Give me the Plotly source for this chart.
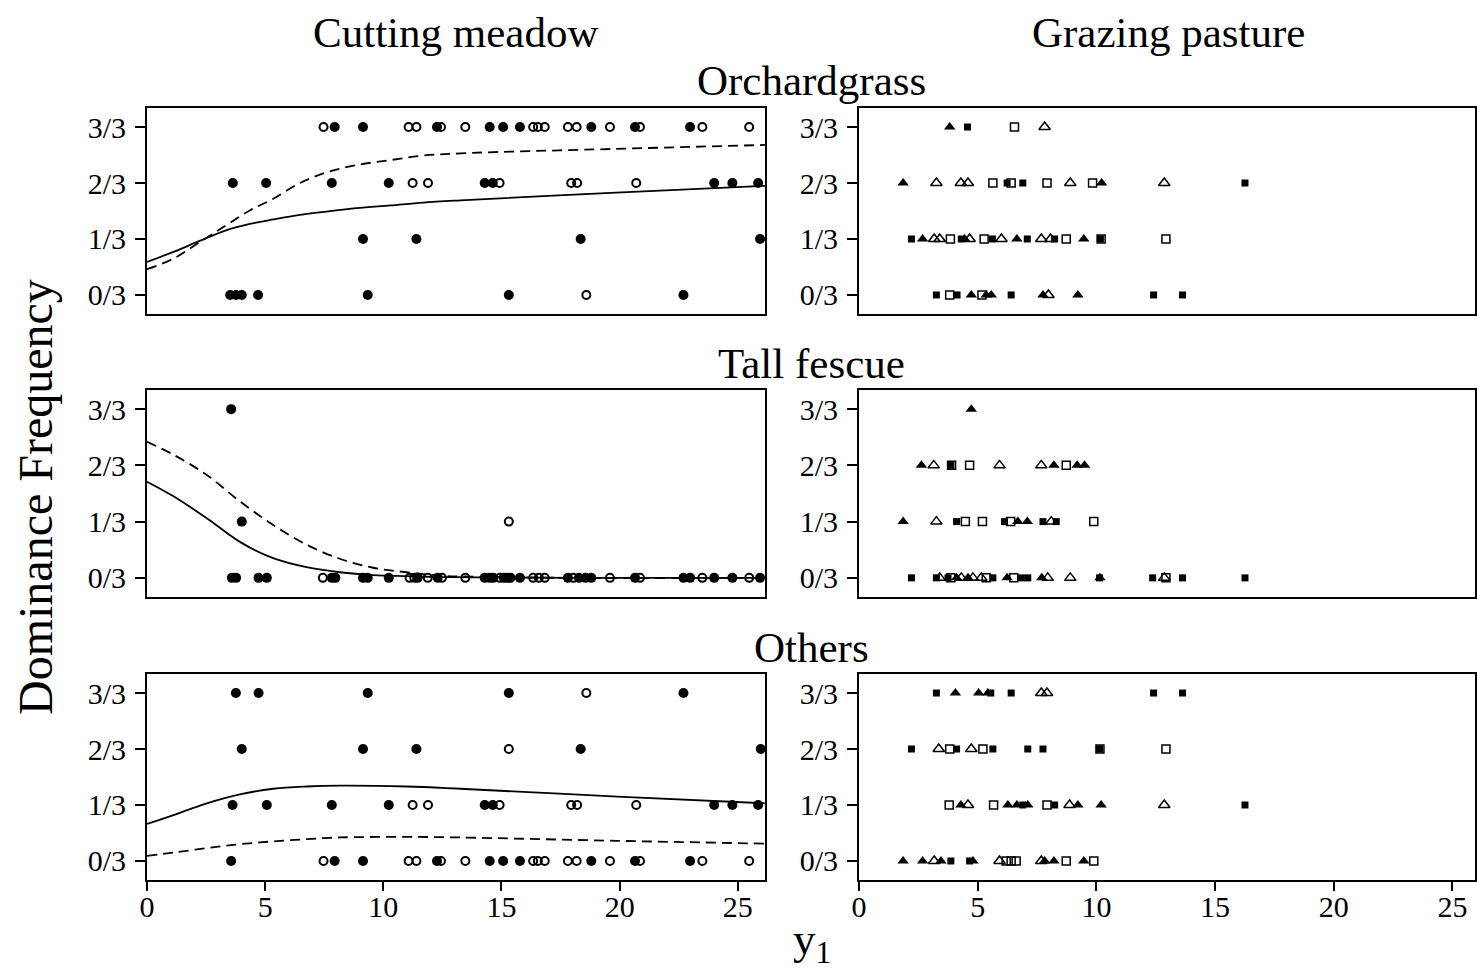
import plotly.graph_objects as go

# ---------------- data ----------------
# Cutting meadow (circles: filled / open), y in thirds (0..3)
OG_CUT_FILLED_X = [7.94, 9.14, 12.27, 14.5, 15.07, 15.78, 18.8, 20.65, 22.98,
                   3.63, 5.04, 7.82, 10.23, 14.29, 14.63, 24.0, 24.77, 25.86,
                   9.14, 11.4, 18.35, 25.94,
                   3.52, 3.77, 4.01, 4.70, 9.34, 15.31, 22.7]
OG_CUT_FILLED_Y = [3]*9 + [2]*9 + [1]*4 + [0]*7
OG_CUT_OPEN_X = [7.47, 11.07, 11.4, 12.44, 13.47, 16.34, 16.54, 16.83, 17.81, 18.18, 19.59, 20.86, 23.5, 25.48,
                 11.24, 11.89, 14.92, 17.95, 18.2, 20.7,
                 18.59]
OG_CUT_OPEN_Y = [3]*14 + [2]*6 + [0]*1

TF_CUT_FILLED_X = [3.56, 4.01,
                   3.59, 3.77, 4.72, 5.07, 7.82, 7.97, 9.14, 9.34, 10.23, 11.45, 12.3, 14.29, 14.5, 14.65,
                   15.1, 15.24, 15.38, 15.78, 17.81, 18.28, 18.56, 18.8, 20.65, 22.7, 22.98, 24.0, 24.77, 25.94]
TF_CUT_FILLED_Y = [3, 1] + [0]*28
TF_CUT_OPEN_X = [15.31,
                 7.44, 11.11, 11.31, 11.88, 12.48, 13.47, 14.93, 16.34, 16.58, 16.83, 18.04, 19.59, 20.86, 23.5, 25.48]
TF_CUT_OPEN_Y = [1] + [0]*15

OT_CUT_FILLED_X = [3.76, 4.72, 9.34, 15.31, 22.7,
                   4.01, 9.14, 11.4, 18.35, 25.97,
                   3.62, 5.07, 7.82, 10.23, 14.29, 14.63, 24.0, 24.77, 25.86,
                   3.56, 7.94, 9.14, 12.27, 14.5, 15.07, 15.78, 18.8, 20.65, 22.98]
OT_CUT_FILLED_Y = [3]*5 + [2]*5 + [1]*9 + [0]*10
OT_CUT_OPEN_X = [18.59,
                 15.31,
                 11.24, 11.89, 14.92, 17.95, 18.2, 20.7,
                 7.47, 11.07, 11.4, 12.44, 13.47, 16.34, 16.54, 16.83, 17.81, 18.18, 19.59, 20.86, 23.5, 25.48]
OT_CUT_OPEN_Y = [3] + [2] + [1]*6 + [0]*14

# Fitted curves (cutting meadow)
OG_CURVE_X = [0, 1.12, 2.25, 3.37, 4.35, 5.35, 6.47, 7.6, 8.86, 10.3, 11.68, 13.26, 19.85, 26.15]
OG_SOLID = [0.59, 0.77, 0.97, 1.16, 1.27, 1.35, 1.43, 1.49, 1.55, 1.60, 1.65, 1.69, 1.83, 1.95]
OG_DASH = [0.46, 0.65, 0.95, 1.25, 1.51, 1.72, 2.0, 2.19, 2.32, 2.41, 2.49, 2.53, 2.61, 2.68]
TF_CURVE_X = [0, 1.12, 2.53, 3.93, 5.34, 6.75, 8.16, 9.57, 10.98, 12.4, 14.0, 18.0, 26.15]
TF_SOLID = [1.71, 1.45, 1.06, 0.64, 0.35, 0.19, 0.10, 0.05, 0.03, 0.015, 0.01, 0.0, 0.0]
TF_DASH = [2.42, 2.19, 1.83, 1.36, 0.94, 0.59, 0.34, 0.18, 0.10, 0.04, 0.02, 0.0, 0.0]
OT_CURVE_X = [0, 1.12, 2.53, 3.93, 5.34, 6.75, 8.16, 10.98, 13.26, 19.9, 26.15]
OT_SOLID = [0.66, 0.82, 1.03, 1.19, 1.29, 1.33, 1.345, 1.33, 1.29, 1.15, 1.03]
OT_DASH = [0.09, 0.15, 0.23, 0.30, 0.35, 0.39, 0.42, 0.43, 0.42, 0.36, 0.31]

# Grazing pasture (filled triangle / filled square / open square / open triangle)
OG_GR_FTRI_X = [3.82, 1.86, 10.22, 2.68, 4.45, 6.65, 9.47, 4.73, 5.36, 5.57, 7.75, 9.22]
OG_GR_FTRI_Y = [3, 2, 2, 1, 1, 1, 1, 0, 0, 0, 0, 0]
OG_GR_FSQ_X = [4.57, 6.24, 6.9, 16.26, 2.21, 4.31, 5.62, 7.09, 8.24, 10.17, 3.26, 4.13, 6.41, 12.41, 13.63]
OG_GR_FSQ_Y = [3, 2, 2, 2, 1, 1, 1, 1, 1, 1, 0, 0, 0, 0, 0]
OG_GR_OSQ_X = [6.55, 5.64, 6.41, 7.92, 9.84, 3.85, 5.27, 8.73, 10.2, 12.93, 3.82, 5.18]
OG_GR_OSQ_Y = [3, 2, 2, 2, 2, 1, 1, 1, 1, 1, 0, 0]
OG_GR_OTRI_X = [7.82, 3.26, 4.29, 4.59, 8.9, 12.86, 3.17, 3.40, 4.66, 6.0, 7.68, 8.07, 7.98]
OG_GR_OTRI_Y = [3, 2, 2, 2, 2, 2, 1, 1, 1, 1, 1, 1, 0]

TF_GR_FTRI_X = [4.73, 2.63, 8.21, 9.19, 9.5, 1.86, 6.69, 7.09, 4.11, 4.59, 6.24, 7.70, 10.15]
TF_GR_FTRI_Y = [3, 2, 2, 2, 2, 1, 1, 1, 0, 0, 0, 0, 0]
TF_GR_FSQ_X = [3.87, 4.11, 6.13, 7.75, 8.31, 2.21, 3.26, 3.75, 5.64, 6.83, 7.11, 10.13, 12.37, 13.63, 16.26]
TF_GR_FSQ_Y = [2, 1, 1, 1, 1, 0, 0, 0, 0, 0, 0, 0, 0, 0, 0]
TF_GR_OSQ_X = [3.90, 4.66, 8.73, 4.48, 5.2, 6.39, 9.89, 3.87, 5.36, 6.52, 12.93]
TF_GR_OSQ_Y = [2, 2, 2, 1, 1, 1, 1, 0, 0, 0, 0]
TF_GR_OTRI_X = [3.15, 5.92, 7.68, 3.26, 8.1, 3.40, 4.31, 4.80, 5.15, 7.95, 8.9, 12.86]
TF_GR_OTRI_Y = [2, 2, 2, 1, 1, 0, 0, 0, 0, 0, 0, 0]

OT_GR_FTRI_X = [4.06, 5.04, 5.43, 4.29, 6.27, 6.65, 7.11, 9.22, 10.2, 1.86, 2.68, 3.45, 4.8, 7.82, 8.21, 9.47]
OT_GR_FTRI_Y = [3, 3, 3, 1, 1, 1, 1, 1, 1, 0, 0, 0, 0, 0, 0, 0]
OT_GR_FSQ_X = [3.26, 5.55, 6.41, 12.41, 13.63, 2.21, 4.11, 5.64, 7.11, 7.75, 10.13, 6.9, 8.24, 16.26, 3.87, 4.66]
OT_GR_FSQ_Y = [3, 3, 3, 3, 3, 2, 2, 2, 2, 2, 2, 1, 1, 1, 0, 0]
OT_GR_OSQ_X = [3.82, 5.22, 10.15, 12.93, 3.80, 5.67, 7.92, 6.2, 6.41, 6.62, 8.73, 9.89]
OT_GR_OSQ_Y = [2, 2, 2, 2, 1, 1, 1, 0, 0, 0, 0, 0]
OT_GR_OTRI_X = [7.68, 7.92, 3.36, 4.73, 4.59, 8.87, 12.86, 3.17, 5.92, 7.68]
OT_GR_OTRI_Y = [3, 3, 2, 2, 1, 1, 1, 0, 0, 0]

Y_TICKS = [0, 1, 2, 3]
Y_LABELS = ["0/3", "1/3", "2/3", "3/3"]
X_TICKS = [0, 5, 10, 15, 20, 25]
COL_TITLES = ["Cutting meadow", "Grazing pasture"]
ROW_TITLES = ["Orchardgrass", "Tall fescue", "Others"]

# ---------------- figure ----------------
W, H = 1477, 973
FONT = "Liberation Serif, Times New Roman, serif"
fig = go.Figure()

def px_x(p):
    return p / W

def px_y(p):
    return 1 - p / H

col_dom = [[px_x(147), px_x(765)], [px_x(859), px_x(1475)]]
row_dom = [[px_y(314), px_y(108)], [px_y(597), px_y(390)], [px_y(880), px_y(674)]]
x_ranges = [[0, 26.15], [0, 25.95]]

def axname(r, c):
    i = r * 2 + c + 1
    return ("x" if i == 1 else f"x{i}"), ("y" if i == 1 else f"y{i}")

def add_markers(r, c, xs, ys, symbol, size, lw=1.8):
    xa, ya = axname(r, c)
    fig.add_trace(go.Scatter(
        x=xs, y=ys, mode="markers", xaxis=xa, yaxis=ya, showlegend=False,
        cliponaxis=False,
        marker=dict(symbol=symbol, size=size, color="black",
                    line=dict(color="black", width=lw))))

def add_curve(r, c, xs, ys, dash):
    xa, ya = axname(r, c)
    fig.add_trace(go.Scatter(
        x=xs, y=ys, mode="lines", xaxis=xa, yaxis=ya, showlegend=False,
        line=dict(color="black", width=1.8, dash=dash, shape="spline", smoothing=1.0)))

cut = [(OG_CUT_FILLED_X, OG_CUT_FILLED_Y, OG_CUT_OPEN_X, OG_CUT_OPEN_Y, OG_CURVE_X, OG_SOLID, OG_DASH),
       (TF_CUT_FILLED_X, TF_CUT_FILLED_Y, TF_CUT_OPEN_X, TF_CUT_OPEN_Y, TF_CURVE_X, TF_SOLID, TF_DASH),
       (OT_CUT_FILLED_X, OT_CUT_FILLED_Y, OT_CUT_OPEN_X, OT_CUT_OPEN_Y, OT_CURVE_X, OT_SOLID, OT_DASH)]
for r, (fx, fy, ox, oy, cx, cs, cd) in enumerate(cut):
    add_curve(r, 0, cx, cs, "solid")
    add_curve(r, 0, cx, cd, "10px,6px")
    add_markers(r, 0, ox, oy, "circle-open", 8, 2.0)
    add_markers(r, 0, fx, fy, "circle", 10, 0)

graz = [(OG_GR_FTRI_X, OG_GR_FTRI_Y, OG_GR_FSQ_X, OG_GR_FSQ_Y, OG_GR_OSQ_X, OG_GR_OSQ_Y, OG_GR_OTRI_X, OG_GR_OTRI_Y),
        (TF_GR_FTRI_X, TF_GR_FTRI_Y, TF_GR_FSQ_X, TF_GR_FSQ_Y, TF_GR_OSQ_X, TF_GR_OSQ_Y, TF_GR_OTRI_X, TF_GR_OTRI_Y),
        (OT_GR_FTRI_X, OT_GR_FTRI_Y, OT_GR_FSQ_X, OT_GR_FSQ_Y, OT_GR_OSQ_X, OT_GR_OSQ_Y, OT_GR_OTRI_X, OT_GR_OTRI_Y)]
for r, (tx, ty, sx, sy, osx, osy, otx, oty) in enumerate(graz):
    add_markers(r, 1, osx, osy, "square-open", 8, 1.5)
    add_markers(r, 1, otx, oty, "triangle-up-open", 10, 1.5)
    add_markers(r, 1, sx, sy, "square", 7, 0)
    add_markers(r, 1, tx, ty, "triangle-up", 10, 0)

layout = dict(
    template="none",
    width=W, height=H, margin=dict(l=0, r=0, t=0, b=0, autoexpand=False),
    paper_bgcolor="white", plot_bgcolor="white",
    font=dict(family=FONT, color="black", size=30),
)
for r in range(3):
    for c in range(2):
        i = r * 2 + c + 1
        xk = "xaxis" if i == 1 else f"xaxis{i}"
        yk = "yaxis" if i == 1 else f"yaxis{i}"
        xa, ya = axname(r, c)
        bottom = (r == 2)
        layout[xk] = dict(
            domain=col_dom[c], range=x_ranges[c], anchor=ya, automargin=False,
            showline=True, mirror=True, linecolor="black", linewidth=1.8,
            showgrid=False, zeroline=False,
            tickmode="array", tickvals=X_TICKS,
            ticks="outside" if bottom else "", ticklen=9, tickwidth=1.5, tickcolor="black",
            ticklabelstandoff=-10,
            showticklabels=bottom, tickfont=dict(family=FONT, size=30, color="black"),
        )
        layout[yk] = dict(
            domain=row_dom[r], range=[-0.34, 3.34], anchor=xa, automargin=False,
            showline=True, mirror=True, linecolor="black", linewidth=1.8,
            showgrid=False, zeroline=False,
            tickmode="array", tickvals=Y_TICKS, ticktext=Y_LABELS,
            ticks="outside", ticklen=10, tickwidth=1.5, tickcolor="black",
            ticklabelstandoff=3,
            tickfont=dict(family=FONT, size=30, color="black"),
        )
fig.update_layout(**layout)

ann = []
ann.append(dict(text=COL_TITLES[0], x=px_x(455), y=px_y(33)))
ann.append(dict(text=COL_TITLES[1], x=px_x(1168), y=px_y(33)))
for t, yy in zip(ROW_TITLES, [80, 363, 647]):
    ann.append(dict(text=t, x=px_x(811), y=px_y(yy)))
for a in ann:
    fig.add_annotation(xref="paper", yref="paper", xanchor="center", yanchor="middle",
                       showarrow=False, font=dict(family=FONT, size=43, color="black"), **a)
fig.add_annotation(text="Dominance Frequency", xref="paper", yref="paper",
                   x=px_x(35), y=px_y(497), textangle=-90, showarrow=False,
                   xanchor="center", yanchor="middle",
                   font=dict(family=FONT, size=48, color="black"))
fig.add_annotation(text="y<sub>1</sub>", xref="paper", yref="paper",
                   x=px_x(812), y=px_y(942), showarrow=False,
                   xanchor="center", yanchor="middle",
                   font=dict(family=FONT, size=45, color="black"))

fig.write_html("out.html")
